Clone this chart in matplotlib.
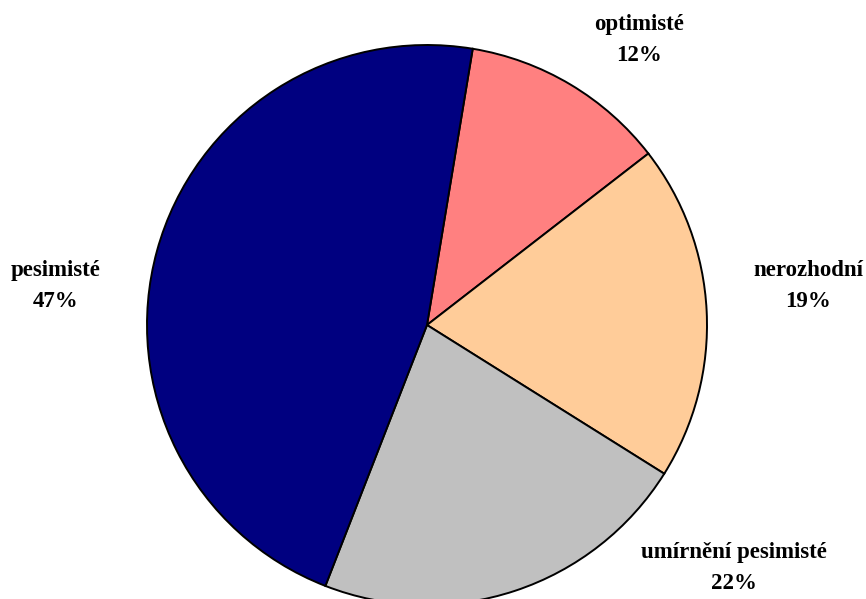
import matplotlib.pyplot as plt

categories = ['optimisté', 'nerozhodní', 'umírnění pesimisté', 'pesimisté']
shares = [11.9, 19.4, 22.0, 46.7]
shown = [12, 19, 22, 47]
colors = ['#FF8080', '#FFCC99', '#C0C0C0', '#000080']

# label positions in pixels (x, y from top)
label_pos = [(639, 40), (808, 286), (734, 568), (56, 286)]

fig = plt.figure(figsize=(8.66, 5.99), dpi=100)
ax = fig.add_axes([0, 0, 1, 1])

ax.pie(shares, colors=colors, startangle=80.6, counterclock=False,
       center=(427, 599 - 325), radius=280, frame=True,
       wedgeprops={'edgecolor': 'black', 'linewidth': 1.4})
ax.set_xlim(0, 866)
ax.set_ylim(0, 599)
ax.set_aspect('equal')
ax.axis('off')

for name, val, (x, y) in zip(categories, shown, label_pos):
    ax.text(x, 599 - y, f'{name}\n{val}%', ha='center', va='center',
            fontsize=16.5, fontweight='bold', family='Liberation Serif',
            linespacing=1.6)

fig.savefig('out.png', dpi=100)
